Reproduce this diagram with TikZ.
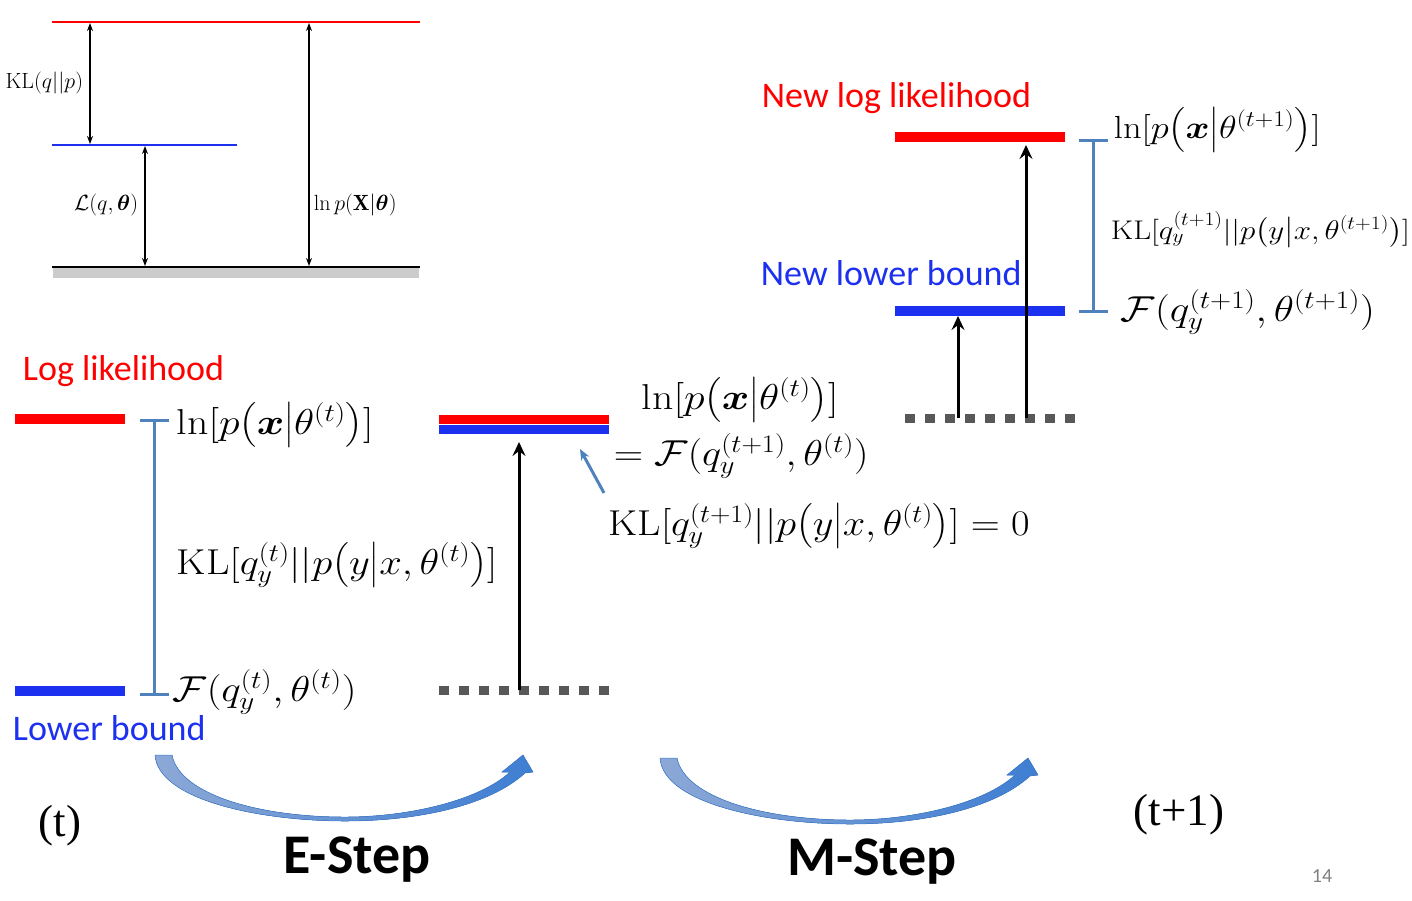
\RequirePackage{fix-cm}
\documentclass[tikz,border=0pt]{standalone}
\usepackage{amsmath,bm}
\usepackage{graphicx}
\usepackage{fontspec}
\newfontfamily\calib{Carlito}
\newfontfamily\timesf{Liberation Serif}
\usetikzlibrary{arrows.meta,positioning}

\definecolor{lvlred}{RGB}{255,0,0}
\definecolor{lvlblue}{RGB}{28,48,240}
\definecolor{brk}{RGB}{79,129,189}
\definecolor{dotgrey}{RGB}{88,88,88}
\definecolor{stepA}{RGB}{140,168,214}
\definecolor{stepB}{RGB}{62,126,210}
\definecolor{pagegrey}{RGB}{128,128,128}

% wide math, closer to the slide's math font
\newcommand{\wm}[2][1.14]{\scalebox{#1}[1]{#2}}

\tikzset{
  redbar/.style={draw=lvlred,line width=9.5pt},
  bluebar/.style={draw=lvlblue,line width=9.5pt},
  dotbar/.style={draw=dotgrey,line width=9pt,dash pattern=on 10pt off 10pt},
  gapbar/.style={draw=brk,line width=3pt,{Bar[width=29pt]}-{Bar[width=29pt]}},
  risearrow/.style={draw=black,line width=3pt,-{Stealth[length=14pt,width=13pt,inset=5pt]}},
  pointarrow/.style={draw=brk,line width=3pt,-{Stealth[length=11pt,width=9pt]}},
  insetarrow/.style={draw=black,line width=1.5pt,{Stealth[length=8pt,width=6pt]}-{Stealth[length=8pt,width=6pt]}},
  mathlbl/.style={inner sep=0.75pt,font=\fontsize{36}{42}\selectfont},
  midmath/.style={inner sep=0.75pt,font=\fontsize{32}{38}\selectfont},
  smallmath/.style={inner sep=0.75pt,font=\fontsize{27}{32}\selectfont},
  insetlbl/.style={inner sep=0.75pt,font=\fontsize{22}{26}\selectfont},
  catlbl/.style={inner sep=0.75pt,font=\calib\fontsize{36}{42}\selectfont},
  steplbl/.style={inner sep=0.75pt,font=\calib\bfseries\fontsize{56}{64}\selectfont},
  timelbl/.style={inner sep=0.75pt,font=\timesf\fontsize{45}{52}\selectfont},
  pics/stepcurve/.style={code={
    \fill[left color=stepA,right color=stepB,draw=stepB,line width=0.5pt]
      (0,0) .. controls (3,-45) and (105,-66) .. (190,-66)
      .. controls (265,-66) and (335,-50) .. (370,-18)
      -- (378,-17) -- (368,0) -- (347,-17) -- (355,-17)
      .. controls (325,-45) and (255,-62) .. (190,-62)
      .. controls (105,-62) and (25,-40) .. (17,0) -- cycle;
  }}
}

\begin{document}
\begin{tikzpicture}[x=1pt,y=1pt,yscale=-1,xscale=1]
\useasboundingbox (0,0) rectangle (1412,900);

%Inset: levels
\draw [lvlred,line width=2.5pt] (52,22) -- (420,22) ;
\draw [lvlblue,line width=2.5pt] (52,145) -- (237,145) ;
\fill [black!20] (53,268) rectangle (419,278) ;
\draw [black,line width=2.5pt] (52,267) -- (420,267) ;
%Inset: arrows
\coordinate (klA) at (90,23) ;
\coordinate (klB) at (90,144) ;
\coordinate (lqA) at (145,146) ;
\coordinate (lqB) at (145,266) ;
\coordinate (lnA) at (309,23) ;
\coordinate (lnB) at (309,266) ;
\draw [insetarrow] (klA) -- (klB) ;
\draw [insetarrow] (lqA) -- (lqB) ;
\draw [insetarrow] (lnA) -- (lnB) ;
% Text Node
\node [insetlbl,anchor=east] (klinset) at (84,83) {$\mathrm{KL}(q||p)$};
% Text Node
\node [insetlbl,anchor=east] (lqinset) at (139,205) {$\mathcal{L}(q,\boldsymbol{\theta})$};
% Text Node
\node [insetlbl,anchor=west] (lninset) at (313,205) {$\ln p(\mathbf{X}|\boldsymbol{\theta})$};

%Step t
\draw [redbar] (15,419) -- (125,419) ;
\draw [bluebar] (15,691) -- (125,691) ;
\coordinate (gapTa) at (154,419) ;
\coordinate (gapTb) at (154,696) ;
\draw [gapbar] (gapTa) -- (gapTb) ;
% Text Node
\node [catlbl,text=lvlred,anchor=west] (loglik) at (22,371) {Log likelihood};
% Text Node
\node [catlbl,text=lvlblue,anchor=west] (lowbound) at (12,728) {Lower bound};
% Text Node
\node [mathlbl,anchor=west] (lnT) at (176,425) {\wm[1.16]{$\ln[p\big(\boldsymbol{x}\big|\theta^{(t)}\big)]$}};
% Text Node
\node [mathlbl,anchor=west] (klT) at (176,565) {\wm[1.13]{$\mathrm{KL}[q_y^{(t)}||p\big(y\big|x,\theta^{(t)}\big)]$}};
% Text Node
\node [mathlbl,anchor=west] (fT) at (172,692) {\wm[1.15]{$\mathcal{F}(q_y^{(t)},\theta^{(t)})$}};

%After E-step
\draw [redbar] (439,419.5) -- (609,419.5) ;
\draw [bluebar] (439,429.5) -- (609,429.5) ;
\draw [dotbar] (439,690) -- (609,690) ;
\coordinate (eBase) at (519,690) ;
\coordinate (eTop) at (519,442) ;
\draw [risearrow] (eBase) -- (eTop) ;
\coordinate (zeroTail) at (604,493) ;
\coordinate (zeroTip) at (580,449) ;
\draw [pointarrow] (zeroTail) -- (zeroTip) ;
% Text Node
\node [mathlbl,anchor=west] (lnE) at (641,400) {\wm[1.16]{$\ln[p\big(\boldsymbol{x}\big|\theta^{(t)}\big)]$}};
% Text Node
\node [mathlbl,anchor=west] (fE) at (613,456) {\wm[1.13]{$=\mathcal{F}(q_y^{(t+1)},\theta^{(t)})$}};
% Text Node
\node [mathlbl,anchor=west] (klE) at (608,526) {\wm[1.12]{$\mathrm{KL}[q_y^{(t+1)}||p\big(y\big|x,\theta^{(t)}\big)]=0$}};

%After M-step
\draw [redbar] (895,137) -- (1065,137) ;
\draw [bluebar] (895,311) -- (1065,311) ;
\draw [dotbar] (905,418) -- (1075,418) ;
\coordinate (mBaseA) at (958,418) ;
\coordinate (mTopA) at (958,316) ;
\coordinate (mBaseB) at (1026,418) ;
\coordinate (mTopB) at (1026,145) ;
\draw [risearrow] (mBaseA) -- (mTopA) ;
\draw [risearrow] (mBaseB) -- (mTopB) ;
\coordinate (gapMa) at (1093,139) ;
\coordinate (gapMb) at (1093,313) ;
\draw [gapbar] (gapMa) -- (gapMb) ;
% Text Node
\node [catlbl,text=lvlred,anchor=west] (newloglik) at (761,98) {New log likelihood};
% Text Node
\node [catlbl,text=lvlblue,anchor=west] (newlowbound) at (760,273) {New lower bound};
% Text Node
\node [midmath,anchor=west] (lnM) at (1113,130) {\wm[1.14]{$\ln[p\big(\boldsymbol{x}\big|\theta^{(t+1)}\big)]$}};
% Text Node
\node [smallmath,anchor=west] (klM) at (1110,230) {\wm[1.15]{$\mathrm{KL}[q_y^{(t+1)}||p\big(y\big|x,\theta^{(t+1)}\big)]$}};
% Text Node
\node [mathlbl,anchor=west] (fM) at (1120,312) {\wm[1.16]{$\mathcal{F}(q_y^{(t+1)},\theta^{(t+1)})$}};

%Curved step arrows
\pic at (155,755) {stepcurve};
\pic at (660,758) {stepcurve};
% Text Node
\node [steplbl] (estep) at (357,860) {E-Step};
% Text Node
\node [steplbl] (mstep) at (872,862) {M-Step};
% Text Node
\node [timelbl,anchor=west] (tnow) at (38,826) {(t)};
% Text Node
\node [timelbl,anchor=west] (tnext) at (1133,815) {(t+1)};
% Text Node
\node [inner sep=0.75pt,font=\calib\fontsize{20}{24}\selectfont,text=pagegrey] (pagenum) at (1322,876) {14};

\end{tikzpicture}
\end{document}
